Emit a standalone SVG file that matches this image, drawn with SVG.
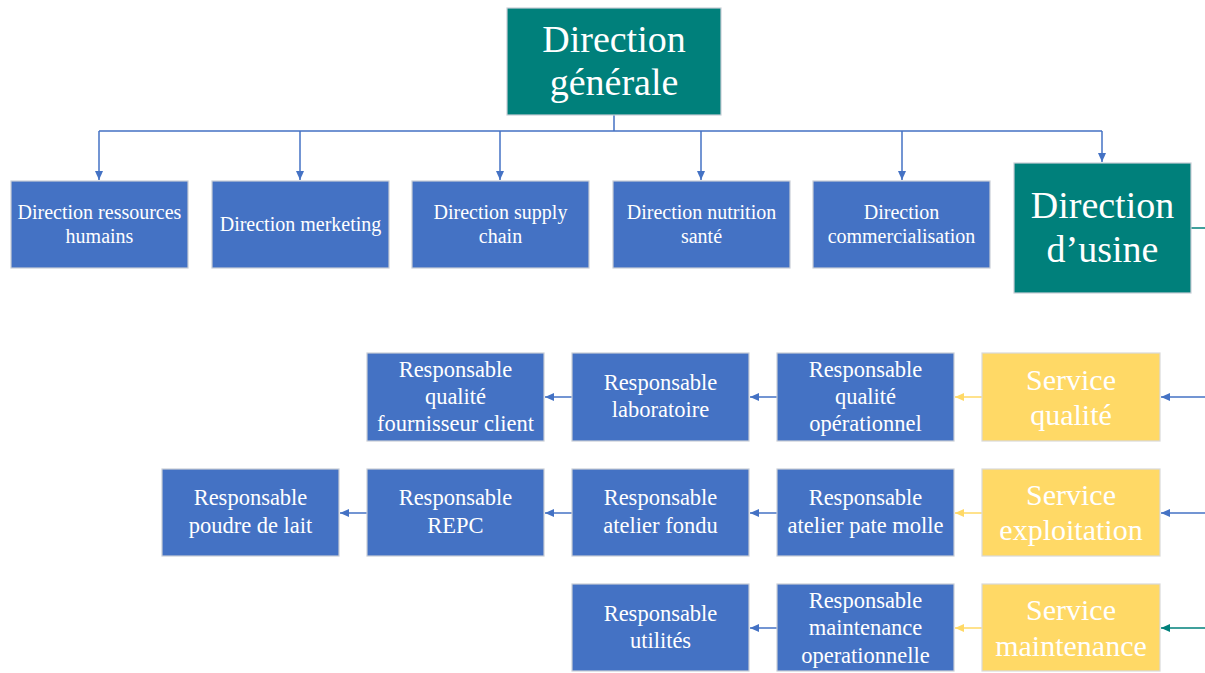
<svg xmlns="http://www.w3.org/2000/svg" width="1205" height="673" viewBox="0 0 1205 673">
<style>
.b{fill:#4472c4;stroke:#c9ced6;stroke-width:1.2}
.t{fill:#00807b;stroke:#c9ced6;stroke-width:1.2}
.y{fill:#ffd966;stroke:#d9d9d9;stroke-width:1.2}
text{font-family:"Liberation Serif","Times New Roman",serif;fill:#fff;text-anchor:middle}
.s20{font-size:20px}
.s22{font-size:22.5px}
.s30{font-size:30px}
.s38{font-size:38px}
.cb{stroke:#4472c4;stroke-width:1.5;fill:none}
.cy{stroke:#ffd966;stroke-width:1.5;fill:none}
.ct{stroke:#00807b;stroke-width:1.5;fill:none}
</style>
<defs>
<marker id="ab" markerWidth="10" markerHeight="10" refX="9" refY="5" orient="auto" markerUnits="userSpaceOnUse"><path d="M0,1 L9,5 L0,9 z" fill="#4472c4"/></marker>
<marker id="ay" markerWidth="10" markerHeight="10" refX="9" refY="5" orient="auto" markerUnits="userSpaceOnUse"><path d="M0,1 L9,5 L0,9 z" fill="#ffd966"/></marker>
<marker id="at" markerWidth="10" markerHeight="10" refX="9" refY="5" orient="auto" markerUnits="userSpaceOnUse"><path d="M0,1 L9,5 L0,9 z" fill="#00807b"/></marker>
</defs>
<g id="connectors">
<path class="cb" d="M614,115 V131 M99,131 H1102"/>
<path class="cb" marker-end="url(#ab)" d="M99,131 V180"/>
<path class="cb" marker-end="url(#ab)" d="M300,131 V180"/>
<path class="cb" marker-end="url(#ab)" d="M500,131 V180"/>
<path class="cb" marker-end="url(#ab)" d="M701,131 V180"/>
<path class="cb" marker-end="url(#ab)" d="M902,131 V180"/>
<path class="cb" marker-end="url(#ab)" d="M1102,131 V162"/>
<path class="ct" d="M1191,228 H1205"/>
<path class="cb" marker-end="url(#ab)" d="M1205,397 H1161"/>
<path class="cb" marker-end="url(#ab)" d="M1205,513 H1161"/>
<path class="ct" marker-end="url(#at)" d="M1205,628 H1161"/>
<path class="cy" marker-end="url(#ay)" d="M982,397 H955"/>
<path class="cy" marker-end="url(#ay)" d="M982,513 H955"/>
<path class="cy" marker-end="url(#ay)" d="M982,628 H955"/>
<path class="cb" marker-end="url(#ab)" d="M777,397 H750"/>
<path class="cb" marker-end="url(#ab)" d="M572,397 H545"/>
<path class="cb" marker-end="url(#ab)" d="M777,513 H750"/>
<path class="cb" marker-end="url(#ab)" d="M572,513 H545"/>
<path class="cb" marker-end="url(#ab)" d="M367,513 H340"/>
<path class="cb" marker-end="url(#ab)" d="M777,628 H750"/>
</g>
<g id="dg"><rect class="t" x="507" y="8" width="214" height="107"/><text class="s38" x="614" y="52">Direction</text><text class="s38" x="614" y="95">générale</text></g>
<g id="drh"><rect class="b" x="11" y="181" width="177" height="87"/><text class="s20" x="99.5" y="219">Direction ressources</text><text class="s20" x="99.5" y="243">humains</text></g>
<g id="dm"><rect class="b" x="212" y="181" width="177" height="87"/><text class="s20" x="300.5" y="231">Direction merketing</text></g>
<g id="dsc"><rect class="b" x="412" y="181" width="177" height="87"/><text class="s20" x="500.5" y="219">Direction supply</text><text class="s20" x="500.5" y="243">chain</text></g>
<g id="dns"><rect class="b" x="613" y="181" width="177" height="87"/><text class="s20" x="701.5" y="219">Direction nutrition</text><text class="s20" x="701.5" y="243">santé</text></g>
<g id="dc"><rect class="b" x="813" y="181" width="177" height="87"/><text class="s20" x="901.5" y="219">Direction</text><text class="s20" x="901.5" y="243">commercialisation</text></g>
<g id="du"><rect class="t" x="1014" y="163" width="177" height="130"/><text class="s38" x="1102.5" y="218">Direction</text><text class="s38" x="1102.5" y="262">d’usine</text></g>
<g id="sq"><rect class="y" x="982" y="353" width="178" height="88"/><text class="s30" x="1071" y="390">Service</text><text class="s30" x="1071" y="425">qualité</text></g>
<g id="rqo"><rect class="b" x="777" y="353" width="177" height="88"/><text class="s22" x="865.5" y="377">Responsable</text><text class="s22" x="865.5" y="404">qualité</text><text class="s22" x="865.5" y="431">opérationnel</text></g>
<g id="rl"><rect class="b" x="572" y="353" width="177" height="88"/><text class="s22" x="660.5" y="390">Responsable</text><text class="s22" x="660.5" y="417">laboratoire</text></g>
<g id="rqfc"><rect class="b" x="367" y="353" width="177" height="88"/><text class="s22" x="455.5" y="377">Responsable</text><text class="s22" x="455.5" y="404">qualité</text><text class="s22" x="455.5" y="431">fournisseur client</text></g>
<g id="se"><rect class="y" x="982" y="469" width="178" height="87"/><text class="s30" x="1071" y="505">Service</text><text class="s30" x="1071" y="540">exploitation</text></g>
<g id="rapm"><rect class="b" x="777" y="469" width="177" height="87"/><text class="s22" x="865.5" y="505">Responsable</text><text class="s22" x="865.5" y="533">atelier pate molle</text></g>
<g id="raf"><rect class="b" x="572" y="469" width="177" height="87"/><text class="s22" x="660.5" y="505">Responsable</text><text class="s22" x="660.5" y="533">atelier fondu</text></g>
<g id="rrepc"><rect class="b" x="367" y="469" width="177" height="87"/><text class="s22" x="455.5" y="505">Responsable</text><text class="s22" x="455.5" y="533">REPC</text></g>
<g id="rpl"><rect class="b" x="162" y="469" width="177" height="87"/><text class="s22" x="250.5" y="505">Responsable</text><text class="s22" x="250.5" y="533">poudre de lait</text></g>
<g id="sm"><rect class="y" x="982" y="584" width="178" height="87"/><text class="s30" x="1071" y="620">Service</text><text class="s30" x="1071" y="656">maintenance</text></g>
<g id="rmo"><rect class="b" x="777" y="584" width="177" height="87"/><text class="s22" x="865.5" y="608">Responsable</text><text class="s22" x="865.5" y="635">maintenance</text><text class="s22" x="865.5" y="663">operationnelle</text></g>
<g id="ru"><rect class="b" x="572" y="584" width="177" height="87"/><text class="s22" x="660.5" y="621">Responsable</text><text class="s22" x="660.5" y="648">utilités</text></g>
</svg>
